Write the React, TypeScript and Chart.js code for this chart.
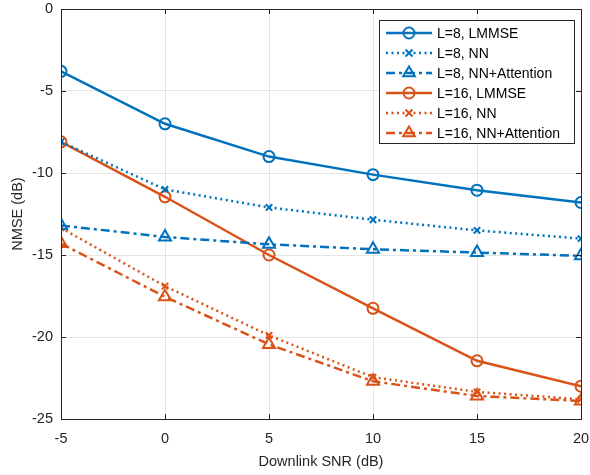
import React, { useEffect, useRef } from "react";
import { Chart, registerables } from "chart.js";
Chart.register(...registerables);

const snr = [-5, 0, 5, 10, 15, 20];
const l8Lmmse = [-3.8, -7.0, -9.0, -10.1, -11.05, -11.8];
const l8Nn = [-8.1, -11.0, -12.1, -12.85, -13.5, -14.0];
const l8Att = [-13.2, -13.9, -14.35, -14.65, -14.85, -15.05];
const l16Lmmse = [-8.1, -11.45, -15.0, -18.25, -21.45, -23.0];
const l16Nn = [-13.35, -16.9, -19.9, -22.45, -23.35, -23.8];
const l16Att = [-14.3, -17.55, -20.45, -22.7, -23.6, -23.9];
const seriesLabels = [
  "L=8, LMMSE",
  "L=8, NN",
  "L=8, NN+Attention",
  "L=16, LMMSE",
  "L=16, NN",
  "L=16, NN+Attention",
];
const xTicks = [-5, 0, 5, 10, 15, 20];
const yTicks = [-25, -20, -15, -10, -5, 0];

const BLUE = "#0072BD";
const ORANGE = "#D95319";
const FONT = "'Liberation Sans', Arial, sans-serif";

const styles = [
  { color: BLUE, dash: [], marker: "circle" },
  { color: BLUE, dash: [2, 3.5], marker: "crossRot" },
  { color: BLUE, dash: [9, 4, 3, 4], marker: "triangle" },
  { color: ORANGE, dash: [], marker: "circle" },
  { color: ORANGE, dash: [2, 3.5], marker: "crossRot" },
  { color: ORANGE, dash: [9, 4, 3, 4], marker: "triangle" },
];
const allData = [l8Lmmse, l8Nn, l8Att, l16Lmmse, l16Nn, l16Att];

function drawMarker(ctx: CanvasRenderingContext2D, kind: string, x: number, y: number, color: string) {
  ctx.save();
  ctx.setLineDash([]);
  ctx.strokeStyle = color;
  ctx.lineWidth = 2;
  ctx.beginPath();
  if (kind === "circle") {
    ctx.arc(x, y, 5.5, 0, Math.PI * 2);
  } else if (kind === "crossRot") {
    const r = 3.5;
    ctx.moveTo(x - r, y - r);
    ctx.lineTo(x + r, y + r);
    ctx.moveTo(x + r, y - r);
    ctx.lineTo(x - r, y + r);
  } else {
    const r = 6.5;
    ctx.moveTo(x, y - r);
    ctx.lineTo(x + r * 0.9, y + r * 0.5);
    ctx.lineTo(x - r * 0.9, y + r * 0.5);
    ctx.closePath();
  }
  ctx.stroke();
  ctx.restore();
}

const boxPlugin = {
  id: "boxPlugin",
  afterDraw(chart: any) {
    const { ctx, chartArea: a, scales } = chart;
    ctx.save();
    ctx.strokeStyle = "#262626";
    ctx.lineWidth = 1;
    ctx.setLineDash([]);
    ctx.strokeRect(Math.round(a.left) + 0.5, Math.round(a.top) + 0.5, Math.round(a.right - a.left), Math.round(a.bottom - a.top));
    ctx.beginPath();
    const tl = 5;
    xTicks.forEach((v) => {
      const px = Math.round(scales.x.getPixelForValue(v)) + 0.5;
      ctx.moveTo(px, a.bottom);
      ctx.lineTo(px, a.bottom - tl);
      ctx.moveTo(px, a.top);
      ctx.lineTo(px, a.top + tl);
    });
    yTicks.forEach((v) => {
      const py = Math.round(scales.y.getPixelForValue(v)) + 0.5;
      ctx.moveTo(a.left, py);
      ctx.lineTo(a.left + tl, py);
      ctx.moveTo(a.right, py);
      ctx.lineTo(a.right - tl, py);
    });
    ctx.stroke();

    // legend
    const lx = 379.5, ly = 20.5, lw = 195, lh = 123;
    ctx.fillStyle = "#ffffff";
    ctx.fillRect(lx, ly, lw, lh);
    ctx.strokeStyle = "#262626";
    ctx.strokeRect(lx, ly, lw, lh);
    ctx.font = "14px " + FONT;
    ctx.textBaseline = "middle";
    ctx.textAlign = "left";
    chart.data.datasets.forEach((ds: any, i: number) => {
      const y = 33 + i * 20;
      const st = styles[i];
      ctx.strokeStyle = st.color;
      ctx.lineWidth = 2.5;
      ctx.setLineDash(st.dash);
      ctx.beginPath();
      ctx.moveTo(386, y);
      ctx.lineTo(432, y);
      ctx.stroke();
      drawMarker(ctx, st.marker, 409, y, st.color);
      ctx.fillStyle = "#000000";
      ctx.fillText(ds.label, 437, y + 1);
    });
    ctx.restore();
  },
};

export default function App() {
  const ref = useRef<HTMLCanvasElement>(null);
  useEffect(() => {
    document.body.style.margin = "0";
    const datasets = allData.map((d, i) => ({
      label: seriesLabels[i],
      data: snr.map((x, j) => ({ x, y: d[j] })),
      borderColor: styles[i].color,
      backgroundColor: "rgba(0,0,0,0)",
      borderWidth: 2.5,
      borderDash: styles[i].dash,
      pointStyle: styles[i].marker,
      pointRadius: styles[i].marker === "triangle" ? 7 : styles[i].marker === "circle" ? 5.5 : 4.5,
      pointBorderWidth: 2,
      pointBorderColor: styles[i].color,
      pointBackgroundColor: "rgba(0,0,0,0)",
      tension: 0,
    }));
    const chart = new Chart(ref.current!, {
      type: "line",
      data: { datasets },
      plugins: [boxPlugin],
      options: {
        animation: false,
        responsive: false,
        layout: { padding: { top: 0, right: 0, left: 0, bottom: 0 } },
        plugins: { legend: { display: false }, tooltip: { enabled: false } },
        scales: {
          x: {
            type: "linear",
            min: -5,
            max: 20,
            afterBuildTicks: (s: any) => { s.ticks = xTicks.map((v) => ({ value: v })); },
            afterFit: (s: any) => { s.height = 56; s.paddingRight = 8; },
            grid: { color: "#e5e5e5", drawTicks: false, lineWidth: 1 },
            border: { display: false },
            ticks: { color: "#262626", font: { family: FONT, size: 14.5 }, padding: 11 },
            title: { display: true, text: "Downlink SNR (dB)", color: "#262626", font: { family: FONT, size: 14.5 }, padding: { top: 2 } },
          },
          y: {
            type: "linear",
            min: -25,
            max: 0,
            afterBuildTicks: (s: any) => { s.ticks = yTicks.map((v) => ({ value: v })); },
            afterFit: (s: any) => { s.width = 61; s.paddingTop = 9; },
            grid: { color: "#e5e5e5", drawTicks: false, lineWidth: 1 },
            border: { display: false },
            ticks: { color: "#262626", font: { family: FONT, size: 14.5 }, padding: 8 },
            title: { display: true, text: "NMSE (dB)", color: "#262626", font: { family: FONT, size: 14.5 }, padding: { top: 9, bottom: 4 } },
          },
        },
      },
    } as any);
    return () => chart.destroy();
  }, []);
  return (
    <div style={{ position: "fixed", left: 0, top: 0, width: 590, height: 475 }}>
      <canvas ref={ref} width={590} height={475} />
    </div>
  );
}
